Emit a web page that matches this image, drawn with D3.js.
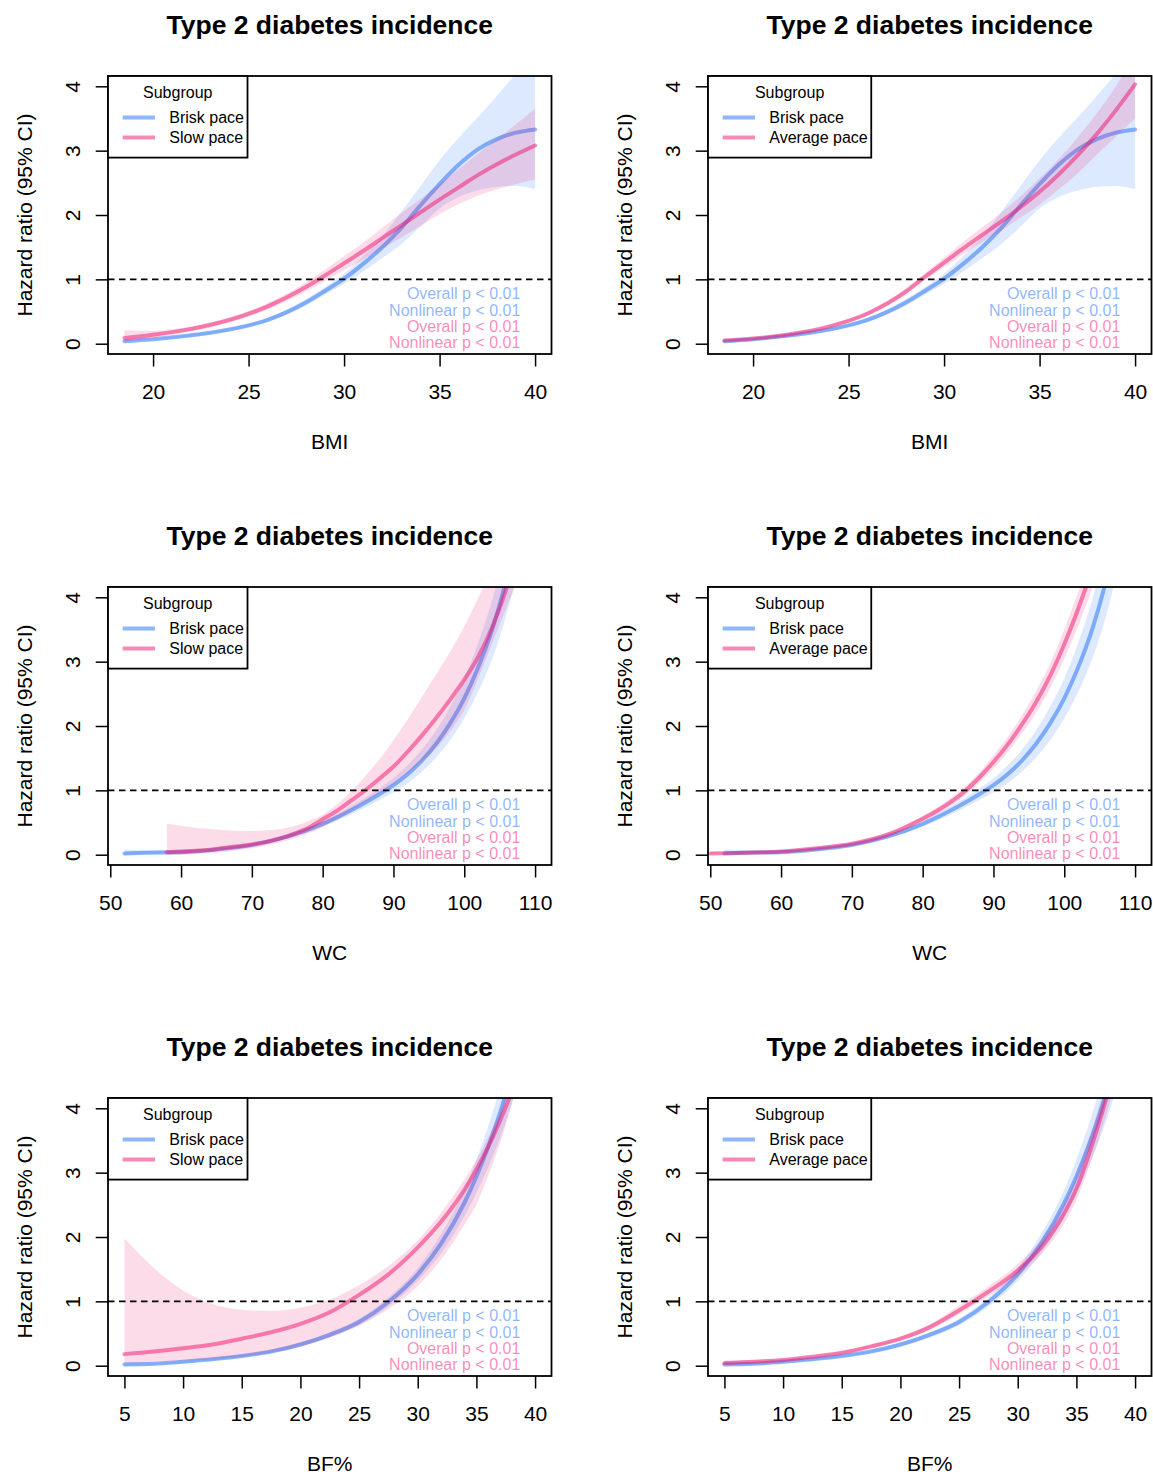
<!DOCTYPE html>
<html>
<head>
<meta charset="utf-8">
<script src="https://cdn.jsdelivr.net/npm/d3@7"></script>
<style>
body { margin: 0; background: #fff; }
text { font-family: "Liberation Sans", Arial, Helvetica, sans-serif; }
</style>
</head>
<body>
<div id="chart"></div>
<script>
// tick labels and axis limits
var yTicks = [0, 1, 2, 3, 4];
var yRange = [0, 4];
var bmiTicks = [20, 25, 30, 35, 40];
var wcTicks = [50, 60, 70, 80, 90, 100, 110];
var bfTicks = [5, 10, 15, 20, 25, 30, 35, 40];
var bmiRange = [18.5, 40];
var wcRange = [52, 110];
var bfRange = [5, 40];

var pText = ["Overall p < 0.01", "Nonlinear p < 0.01"];

// BMI curves (hazard ratio, lower and upper 95% CI)
var bmiX = [18.5, 20, 22, 24, 26, 28, 29, 30, 31, 32, 33, 34, 35, 36, 37, 38, 39, 40];
var briskBmi = [0.04, 0.07, 0.13, 0.22, 0.37, 0.64, 0.82, 1.01, 1.24, 1.5, 1.8, 2.15, 2.48, 2.78, 3.02, 3.18, 3.28, 3.33];
var briskBmiLow = [0.03, 0.06, 0.11, 0.2, 0.34, 0.59, 0.76, 0.93, 1.12, 1.33, 1.55, 1.82, 2.1, 2.28, 2.38, 2.44, 2.45, 2.4];
var briskBmiHigh = [0.05, 0.08, 0.15, 0.24, 0.4, 0.69, 0.88, 1.09, 1.36, 1.67, 2.05, 2.45, 2.85, 3.2, 3.52, 3.85, 4.2, 4.55];
var slowBmi = [0.09, 0.14, 0.23, 0.37, 0.58, 0.88, 1.06, 1.25, 1.44, 1.64, 1.84, 2.04, 2.24, 2.43, 2.62, 2.79, 2.94, 3.08];
var slowBmiLow = [0.03, 0.09, 0.19, 0.33, 0.53, 0.81, 0.97, 1.14, 1.31, 1.48, 1.65, 1.83, 2.01, 2.17, 2.3, 2.4, 2.48, 2.55];
var slowBmiHigh = [0.21, 0.2, 0.27, 0.41, 0.63, 0.95, 1.15, 1.36, 1.57, 1.8, 2.03, 2.25, 2.48, 2.71, 2.95, 3.18, 3.41, 3.65];
var averageBmi = [0.05, 0.08, 0.15, 0.27, 0.47, 0.81, 1.04, 1.26, 1.48, 1.69, 1.9, 2.12, 2.36, 2.63, 2.93, 3.26, 3.63, 4.03];
var averageBmiLow = [0.04, 0.07, 0.13, 0.25, 0.44, 0.77, 0.99, 1.19, 1.39, 1.58, 1.76, 1.96, 2.16, 2.4, 2.65, 2.94, 3.22, 3.5];
var averageBmiHigh = [0.06, 0.09, 0.17, 0.29, 0.5, 0.86, 1.1, 1.34, 1.58, 1.81, 2.04, 2.29, 2.57, 2.87, 3.21, 3.58, 4.0, 4.5];

// WC curves
var briskWcX = [52, 55, 60, 65, 70, 75, 80, 85, 88, 90, 92, 94, 96, 98, 100, 102, 104, 106, 108];
var briskWc = [0.02, 0.03, 0.04, 0.08, 0.15, 0.28, 0.48, 0.75, 0.94, 1.08, 1.25, 1.46, 1.72, 2.04, 2.43, 2.92, 3.52, 4.3, 5.3];
var briskWcLow = [0.0, 0.01, 0.02, 0.06, 0.13, 0.25, 0.44, 0.68, 0.85, 0.97, 1.11, 1.29, 1.51, 1.78, 2.12, 2.54, 3.06, 3.75, 4.65];
var briskWcHigh = [0.08, 0.07, 0.07, 0.1, 0.17, 0.31, 0.52, 0.82, 1.03, 1.19, 1.39, 1.63, 1.93, 2.3, 2.74, 3.3, 3.98, 4.85, 5.95];
var slowWcX = [58, 60, 62, 65, 68, 70, 72, 75, 78, 80, 82, 84, 86, 88, 90, 92, 94, 96, 98, 100, 102, 104, 106, 108];
var slowWc = [0.04, 0.05, 0.06, 0.09, 0.13, 0.16, 0.2, 0.29, 0.42, 0.55, 0.68, 0.84, 1.0, 1.18, 1.37, 1.6, 1.85, 2.12, 2.41, 2.72, 3.08, 3.55, 4.15, 4.9];
var slowWcLow = [0.0, 0.0, 0.01, 0.03, 0.07, 0.1, 0.14, 0.22, 0.33, 0.43, 0.55, 0.68, 0.82, 0.96, 1.1, 1.27, 1.45, 1.65, 1.92, 2.25, 2.75, 3.3, 3.85, 4.35];
var slowWcHigh = [0.48, 0.45, 0.42, 0.39, 0.37, 0.37, 0.38, 0.42, 0.52, 0.62, 0.78, 0.98, 1.22, 1.48, 1.78, 2.1, 2.45, 2.8, 3.15, 3.55, 4.0, 4.5, 5.0, 5.6];
var averageWcX = [50, 55, 60, 65, 70, 75, 80, 82, 84, 86, 88, 90, 92, 94, 96, 98, 100, 102, 104, 106];
var averageWc = [0.02, 0.03, 0.05, 0.1, 0.17, 0.31, 0.56, 0.68, 0.82, 0.99, 1.2, 1.44, 1.71, 2.02, 2.37, 2.78, 3.27, 3.83, 4.47, 5.2];
var averageWcLow = [0.01, 0.02, 0.04, 0.08, 0.15, 0.28, 0.52, 0.63, 0.76, 0.92, 1.12, 1.34, 1.59, 1.88, 2.2, 2.59, 3.04, 3.56, 4.16, 4.84];
var averageWcHigh = [0.04, 0.05, 0.07, 0.12, 0.19, 0.34, 0.6, 0.73, 0.88, 1.06, 1.28, 1.54, 1.83, 2.16, 2.54, 2.97, 3.5, 4.1, 4.78, 5.56];

// BF% curves
var bfX = [5, 7.5, 10, 12.5, 15, 17.5, 20, 22.5, 25, 27.5, 30, 32, 34, 35, 36, 37, 38, 39];
var briskBf = [0.02, 0.03, 0.06, 0.1, 0.15, 0.22, 0.33, 0.48, 0.68, 0.99, 1.42, 1.9, 2.54, 2.94, 3.4, 3.92, 4.54, 5.25];
var briskBfLow = [0.0, 0.01, 0.04, 0.08, 0.13, 0.2, 0.3, 0.44, 0.63, 0.92, 1.32, 1.75, 2.33, 2.68, 3.08, 3.53, 4.06, 4.66];
var briskBfHigh = [0.05, 0.05, 0.08, 0.12, 0.17, 0.24, 0.36, 0.52, 0.73, 1.06, 1.52, 2.05, 2.75, 3.2, 3.72, 4.31, 5.0, 5.84];
var slowBf = [0.18, 0.22, 0.27, 0.33, 0.42, 0.52, 0.65, 0.83, 1.1, 1.42, 1.84, 2.24, 2.74, 3.05, 3.4, 3.8, 4.25, 4.75];
var slowBfLow = [0.04, 0.06, 0.08, 0.1, 0.14, 0.2, 0.3, 0.44, 0.62, 0.88, 1.24, 1.65, 2.2, 2.5, 2.95, 3.45, 4.05, 4.7];
var slowBfHigh = [1.98, 1.52, 1.17, 0.96, 0.87, 0.85, 0.9, 1.03, 1.25, 1.55, 1.95, 2.38, 2.9, 3.2, 3.55, 3.95, 4.45, 5.0];
var averageBf = [0.04, 0.06, 0.09, 0.14, 0.2, 0.3, 0.42, 0.6, 0.86, 1.15, 1.48, 1.84, 2.38, 2.75, 3.25, 3.82, 4.45, 5.15];
var averageBfLow = [0.02, 0.04, 0.07, 0.12, 0.18, 0.27, 0.39, 0.56, 0.8, 1.08, 1.39, 1.73, 2.22, 2.57, 3.05, 3.58, 4.18, 4.85];
var averageBfHigh = [0.08, 0.09, 0.11, 0.16, 0.22, 0.33, 0.45, 0.64, 0.93, 1.23, 1.58, 1.96, 2.54, 2.95, 3.48, 4.08, 4.75, 5.5];

//colors (semi transparent like the original)
var blueLine = "rgba(30,110,245,0.5)";
var pinkLine = "rgba(240,20,110,0.5)";
var blueBand = "rgba(30,110,245,0.15)";
var pinkBand = "rgba(240,20,110,0.15)";

function series(xs, est, low, high) {
    return xs.map(function(d, i) {
        return {x: d, est: est[i], low: low[i], high: high[i]};
    });
}

var panels = [
    {label: "BMI", ticks: bmiTicks, range: bmiRange, other: "Slow pace",
     blue: series(bmiX, briskBmi, briskBmiLow, briskBmiHigh),
     pink: series(bmiX, slowBmi, slowBmiLow, slowBmiHigh)},
    {label: "BMI", ticks: bmiTicks, range: bmiRange, other: "Average pace",
     blue: series(bmiX, briskBmi, briskBmiLow, briskBmiHigh),
     pink: series(bmiX, averageBmi, averageBmiLow, averageBmiHigh)},
    {label: "WC", ticks: wcTicks, range: wcRange, other: "Slow pace",
     blue: series(briskWcX, briskWc, briskWcLow, briskWcHigh),
     pink: series(slowWcX, slowWc, slowWcLow, slowWcHigh)},
    {label: "WC", ticks: wcTicks, range: wcRange, other: "Average pace",
     blue: series(briskWcX, briskWc, briskWcLow, briskWcHigh),
     pink: series(averageWcX, averageWc, averageWcLow, averageWcHigh)},
    {label: "BF%", ticks: bfTicks, range: bfRange, other: "Slow pace",
     blue: series(bfX, briskBf, briskBfLow, briskBfHigh),
     pink: series(bfX, slowBf, slowBfLow, slowBfHigh)},
    {label: "BF%", ticks: bfTicks, range: bfRange, other: "Average pace",
     blue: series(bfX, briskBf, briskBfLow, briskBfHigh),
     pink: series(bfX, averageBf, averageBfLow, averageBfHigh)}
];

var svgWidth = 1153;
var svgHeight = 1474;

var svg = d3.select("#chart").append("svg")
    .attr("width", svgWidth)
    .attr("height", svgHeight);

// R style 4% padding of the axis limits
function padRange(r) {
    var p = (r[1] - r[0]) * 0.04;
    return [r[0] - p, r[1] + p];
}

var plotWidth = 443.5;
var plotHeight = 278;

panels.forEach(function(p, i) {
    var ox = (i % 2) * 600;
    var oy = Math.floor(i / 2) * 511;
    var left = ox + 108;
    var top = oy + 76;

    var xScale = d3.scaleLinear().domain(padRange(p.range)).range([0, plotWidth]);
    var yScale = d3.scaleLinear().domain(padRange(yRange)).range([plotHeight, 0]);

    var g = svg.append("g").attr("transform", `translate(${left}, ${top})`);

    // title
    svg.append("text")
        .attr("x", left + plotWidth / 2)
        .attr("y", oy + 34)
        .attr("text-anchor", "middle")
        .style("font-size", "26.5px")
        .style("font-weight", "bold")
        .text("Type 2 diabetes incidence");

    var clipId = "clip" + i;
    g.append("clipPath").attr("id", clipId)
        .append("rect")
        .attr("width", plotWidth)
        .attr("height", plotHeight);

    var plotArea = g.append("g").attr("clip-path", `url(#${clipId})`);

    var area = d3.area()
        .x(d => xScale(d.x))
        .y0(d => yScale(d.low))
        .y1(d => yScale(d.high))
        .curve(d3.curveMonotoneX);

    var line = d3.line()
        .x(d => xScale(d.x))
        .y(d => yScale(d.est))
        .curve(d3.curveMonotoneX);

    // blue band + line, then pink band + line
    plotArea.append("path").datum(p.blue).attr("d", area).attr("fill", blueBand);
    plotArea.append("path").datum(p.blue).attr("d", line)
        .attr("fill", "none").attr("stroke", blueLine).attr("stroke-width", 4)
        .attr("stroke-linecap", "round");
    plotArea.append("path").datum(p.pink).attr("d", area).attr("fill", pinkBand);
    plotArea.append("path").datum(p.pink).attr("d", line)
        .attr("fill", "none").attr("stroke", pinkLine).attr("stroke-width", 4)
        .attr("stroke-linecap", "round");

    // reference line at HR = 1
    g.append("line")
        .attr("x1", 0).attr("x2", plotWidth)
        .attr("y1", yScale(1)).attr("y2", yScale(1))
        .attr("stroke", "#000")
        .attr("stroke-width", 1.6)
        .attr("stroke-dasharray", "6.5,4.5");

    // p value texts
    var pColors = [blueLine, blueLine, pinkLine, pinkLine];
    var pLines = [pText[0], pText[1], pText[0], pText[1]];
    g.selectAll(".ptext")
        .data(pLines)
        .enter()
        .append("text")
        .attr("x", 412.3)
        .attr("y", (d, k) => 223.3 + k * 16.2)
        .attr("text-anchor", "end")
        .style("font-size", "16px")
        .attr("fill", (d, k) => pColors[k])
        .text(d => d);

    // axes
    var bottomAxis = d3.axisBottom(xScale).tickValues(p.ticks).tickSize(12.5).tickSizeOuter(0).tickPadding(17.6);
    var xAxis = g.append("g")
        .attr("transform", `translate(0, ${plotHeight})`)
        .call(bottomAxis);
    xAxis.selectAll("text").style("font-size", "21px").attr("fill", "#000");

    var leftAxis = d3.axisLeft(yScale).tickValues(yTicks).tickFormat(d3.format("d"))
        .tickSize(12.3).tickSizeOuter(0);
    var yAxis = g.append("g").call(leftAxis);
    yAxis.selectAll("text")
        .attr("x", null).attr("dy", null)
        .attr("text-anchor", "middle")
        .attr("transform", "translate(-28.5, 0) rotate(-90)")
        .style("font-size", "21px")
        .attr("fill", "#000");

    [xAxis, yAxis].forEach(function(a) {
        a.select(".domain").remove();
        a.selectAll("line").attr("stroke", "#000").attr("stroke-width", 1.5);
    });

    // box around the plot
    g.append("rect")
        .attr("width", plotWidth)
        .attr("height", plotHeight)
        .attr("fill", "none")
        .attr("stroke", "#000")
        .attr("stroke-width", 1.8);

    // axis titles
    svg.append("text")
        .attr("x", left + plotWidth / 2)
        .attr("y", oy + 449)
        .attr("text-anchor", "middle")
        .style("font-size", "21px")
        .text(p.label);

    svg.append("text")
        .attr("transform", `translate(${ox + 31.5}, ${top + plotHeight / 2}) rotate(-90)`)
        .attr("text-anchor", "middle")
        .style("font-size", "21px")
        .text("Hazard ratio (95% CI)");

    // legend
    var legend = g.append("g");
    var legendBox = legend.append("rect")
        .attr("height", 81.6)
        .attr("fill", "#fff")
        .attr("stroke", "#000")
        .attr("stroke-width", 1.8);

    var names = ["Brisk pace", p.other];
    var colors = [blueLine, pinkLine];
    var maxLen = 0;
    names.forEach(function(n, k) {
        legend.append("line")
            .attr("x1", 14.7).attr("x2", 47)
            .attr("y1", 41.6 + k * 20).attr("y2", 41.6 + k * 20)
            .attr("stroke", colors[k])
            .attr("stroke-width", 4);
        var t = legend.append("text")
            .attr("x", 61.3)
            .attr("y", 47 + k * 20)
            .style("font-size", "16px")
            .text(n);
        maxLen = Math.max(maxLen, t.node().getComputedTextLength());
    });
    var boxWidth = 61.3 + maxLen + 3.5;
    legendBox.attr("width", boxWidth);
    legend.append("text")
        .attr("x", boxWidth / 2)
        .attr("y", 21.6)
        .attr("text-anchor", "middle")
        .style("font-size", "16px")
        .text("Subgroup");
});
</script>
</body>
</html>
